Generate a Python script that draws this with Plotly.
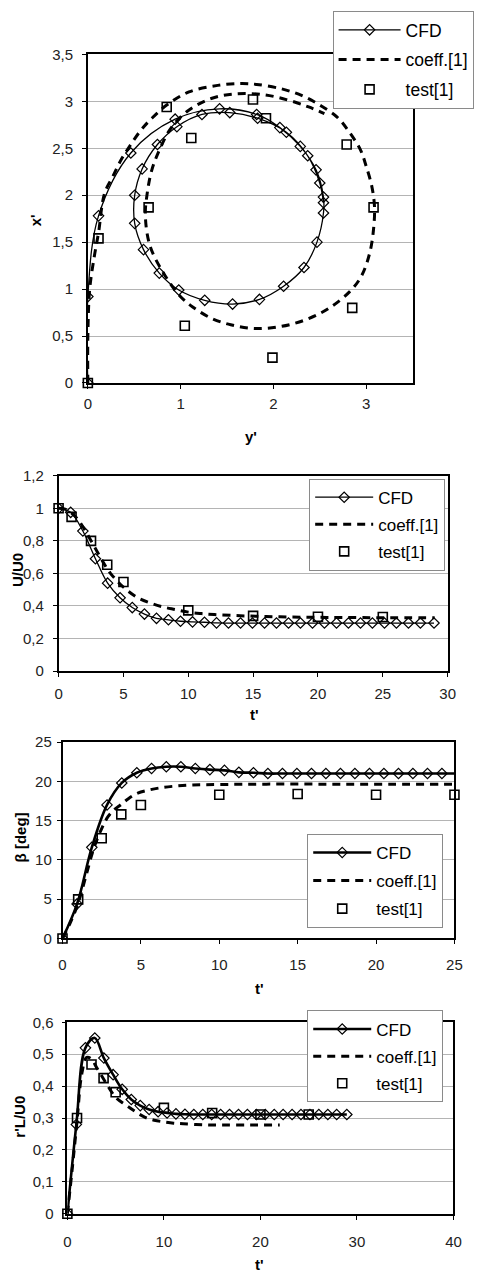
import plotly.graph_objects as go

W, H = 480, 1278

# ---------------- Plot 1: trajectory (x' vs y') ----------------
cfd1_yp = [0, 0, 0.115, 0.463, 0.941, 1.42, 1.82, 2.07, 2.29, 2.46, 2.54, 2.54, 2.47, 2.33,
           2.11, 1.85, 1.56, 1.26, 0.98, 0.77, 0.60, 0.505, 0.505, 0.585, 0.75, 0.96, 1.23,
           1.53, 1.83, 2.14, 2.37, 2.50, 2.54]
cfd1_xp = [0, 0.92, 1.78, 2.45, 2.81, 2.92, 2.86, 2.72, 2.52, 2.27, 1.98, 1.81, 1.50, 1.23,
           1.03, 0.89, 0.84, 0.88, 0.99, 1.17, 1.42, 1.70, 2.00, 2.28, 2.54, 2.73, 2.86,
           2.88, 2.82, 2.67, 2.42, 2.13, 1.92]

coeff1_yp = [0, 0, 0.02, 0.07, 0.115, 0.18, 0.27, 0.36, 0.45, 0.57, 0.69, 0.85, 1.09, 1.40,
             1.65, 1.82, 2.10, 2.31, 2.50, 2.69, 2.82, 2.94, 3.00, 3.06, 3.09, 3.08, 3.04,
             2.95, 2.82, 2.59, 2.34, 2.07, 1.79, 1.54, 1.33, 1.13, 0.99, 0.81, 0.67, 0.62,
             0.64, 0.69, 0.78, 0.90, 1.08, 1.33, 1.60, 1.90, 2.17, 2.38, 2.55]
coeff1_xp = [0, 0.5, 1.0, 1.35, 1.6, 2.02, 2.20, 2.38, 2.52, 2.69, 2.82, 2.96, 3.10, 3.17,
             3.19, 3.18, 3.13, 3.06, 2.96, 2.83, 2.67, 2.48, 2.31, 2.10, 1.88, 1.64, 1.39,
             1.14, 0.97, 0.79, 0.67, 0.60, 0.58, 0.62, 0.69, 0.81, 0.93, 1.18, 1.46, 1.78,
             2.02, 2.27, 2.50, 2.72, 2.90, 3.03, 3.08, 3.07, 3.01, 2.94, 2.87]

test1_yp = [0, 0.115, 0.85, 1.78, 2.79, 3.08, 2.85, 1.99, 1.045, 0.655, 1.115, 1.92]
test1_xp = [0, 1.54, 2.94, 3.02, 2.54, 1.87, 0.80, 0.27, 0.61, 1.87, 2.61, 2.82]

# ---------------- time histories ----------------
t_cfd = [0, 0.93, 1.87, 2.84, 3.78, 4.74, 5.68, 6.62, 7.55, 8.47, 9.4, 10.33, 11.25, 12.18,
         13.1, 14.03, 14.95, 15.88, 16.8, 17.73, 18.65, 19.58, 20.5, 21.43, 22.35, 23.28,
         24.2, 25.13, 26.05, 26.98, 27.9, 28.95]
t_test = [0, 1, 2.5, 3.75, 5, 10, 15, 20, 25]

# Plot 2: U/U0
u_cfd = [1.0, 0.975, 0.86, 0.69, 0.54, 0.45, 0.39, 0.35, 0.324, 0.315, 0.306, 0.302, 0.30,
         0.296, 0.295, 0.295, 0.295, 0.295, 0.295, 0.295, 0.295, 0.295, 0.295, 0.295, 0.295,
         0.295, 0.295, 0.295, 0.295, 0.295, 0.295, 0.295]
t_coeff2 = [0, 0.5, 1, 1.5, 2, 2.5, 3, 3.5, 4, 4.5, 5, 6, 7, 8, 9, 10, 11, 12, 14, 16, 18,
            20, 22, 25, 29]
u_coeff = [1.0, 0.995, 0.97, 0.93, 0.87, 0.80, 0.73, 0.66, 0.60, 0.555, 0.515, 0.455, 0.42,
           0.395, 0.378, 0.362, 0.353, 0.347, 0.34, 0.335, 0.332, 0.33, 0.329, 0.328, 0.327]
u_test = [1.0, 0.947, 0.80, 0.653, 0.547, 0.373, 0.339, 0.334, 0.332]

# Plot 3: beta
beta_cfd = [0, 4.4, 11.6, 17.0, 19.8, 21.1, 21.65, 21.86, 21.86, 21.65, 21.5, 21.4, 21.15,
            21.1, 21.0, 21.0, 21.0, 21.0, 21.0, 21.0, 21.0, 21.0, 21.0, 21.0, 21.0, 21.0,
            21.0, 21.0, 21.0, 21.0, 21.0, 21.0]
t_coeff3 = [0, 0.5, 1, 1.5, 2, 2.5, 2.9, 3.3, 3.7, 4.2, 4.8, 5.5, 6.3, 7.2, 8.3, 10, 13, 17,
            21, 25.4]
beta_coeff = [0, 2.0, 4.5, 8.0, 11.5, 14.0, 15.5, 16.4, 17.0, 17.8, 18.5, 18.9, 19.2, 19.4,
              19.55, 19.6, 19.65, 19.65, 19.65, 19.65]
beta_test = [0, 4.98, 12.77, 15.8, 17.0, 18.3, 18.4, 18.3, 18.3]

# Plot 4: r'L/U0
r_cfd = [0, 0.28, 0.52, 0.551, 0.488, 0.436, 0.39, 0.358, 0.339, 0.327, 0.32, 0.316, 0.313,
         0.312, 0.311, 0.311, 0.311, 0.311, 0.311, 0.311, 0.311, 0.311, 0.311, 0.311, 0.311,
         0.311, 0.311, 0.311, 0.311, 0.311, 0.311, 0.311]
t_coeff4 = [0, 0.5, 1, 1.5, 2, 2.5, 3, 4, 5, 6, 7, 8, 9, 10, 11, 12, 14, 16, 19, 22]
r_coeff = [0, 0.14, 0.29, 0.44, 0.49, 0.485, 0.46, 0.41, 0.365, 0.342, 0.321, 0.303, 0.293,
           0.288, 0.284, 0.282, 0.279, 0.278, 0.278, 0.278]
r_test = [0, 0.30, 0.468, 0.425, 0.381, 0.332, 0.316, 0.311, 0.311]

names = ["CFD", "coeff.[1]", "test[1]"]

# ---------------- layout helpers ----------------
def px_x(p):
    return p / W

def px_y(p):
    return 1 - p / H

FONT = "Liberation Sans, Arial, sans-serif"

fig = go.Figure()

panels = [
    dict(xa="x", ya="y", leg="legend", lw=1.3,
         cfd=(cfd1_yp, cfd1_xp), coeff=(coeff1_yp, coeff1_xp), test=(test1_yp, test1_xp)),
    dict(xa="x2", ya="y2", leg="legend2", lw=1.3,
         cfd=(t_cfd, u_cfd), coeff=(t_coeff2, u_coeff), test=(t_test, u_test)),
    dict(xa="x3", ya="y3", leg="legend3", lw=2.6,
         cfd=(t_cfd, beta_cfd), coeff=(t_coeff3, beta_coeff), test=(t_test, beta_test)),
    dict(xa="x4", ya="y4", leg="legend4", lw=2.6,
         cfd=(t_cfd, r_cfd), coeff=(t_coeff4, r_coeff), test=(t_test, r_test)),
]

for i, p in enumerate(panels):
    fig.add_trace(go.Scatter(
        x=p["coeff"][0], y=p["coeff"][1], mode="lines", name=names[1],
        line=dict(color="black", width=3, dash="8px,6px", shape="spline", smoothing=1),
        xaxis=p["xa"], yaxis=p["ya"], legend=p["leg"], legendgroup=f"c{i}", legendrank=2))
    fig.add_trace(go.Scatter(
        x=p["cfd"][0], y=p["cfd"][1], mode="lines+markers", name=names[0],
        line=dict(color="black", width=p["lw"], shape="spline", smoothing=1),
        marker=dict(symbol="diamond-open", size=8, color="black", line=dict(width=1.2)),
        xaxis=p["xa"], yaxis=p["ya"], legend=p["leg"], legendgroup=f"a{i}", legendrank=1))
    fig.add_trace(go.Scatter(
        x=p["test"][0], y=p["test"][1], mode="markers", name=names[2],
        marker=dict(symbol="square-open", size=9, color="black", line=dict(width=1.6)),
        xaxis=p["xa"], yaxis=p["ya"], legend=p["leg"], legendgroup=f"t{i}", legendrank=3,
        cliponaxis=False))

def axis_common():
    return dict(showline=True, linecolor="black", linewidth=1.5, mirror=True,
                ticks="outside", ticklen=4, tickcolor="black", tickwidth=1,
                tickfont=dict(family=FONT, size=15, color="#222"), zeroline=False)

# pixel boxes: left, right, top, bottom
boxes = [(86, 419, 46, 379), (56, 455, 473, 671), (60, 462, 743, 942), (65, 461, 1027, 1221)]
xr = [[0, 3.5], [0, 30], [0, 25], [0, 40]]
xd = [1, 5, 5, 10]
yr = [[0, 3.5], [0, 1.2], [0, 25], [0, 0.6]]
yd = [0.5, 0.2, 5, 0.1]
xstand = [2, 4, 8, 9]
ystand = [6, 6, 2, 5]

layout = dict(width=W, height=H, margin=dict(l=0, r=0, t=0, b=0), autosize=False,
              paper_bgcolor="white", plot_bgcolor="white", separators=", ",
              font=dict(family=FONT, color="black"))
for k, (l, r, t, b) in enumerate(boxes):
    sx = "xaxis" if k == 0 else f"xaxis{k+1}"
    sy = "yaxis" if k == 0 else f"yaxis{k+1}"
    ax = axis_common()
    ax.update(domain=[px_x(l), px_x(r)], range=xr[k], dtick=xd[k], tick0=0, showgrid=False,
              anchor="y" if k == 0 else f"y{k+1}", ticklabelstandoff=xstand[k])
    ay = axis_common()
    ay.update(domain=[px_y(b), px_y(t)], range=yr[k], dtick=yd[k], tick0=0, showgrid=True,
              gridcolor="#b4b4b4", gridwidth=1.2,
              anchor="x" if k == 0 else f"x{k+1}", ticklabelstandoff=ystand[k])
    layout[sx] = ax
    layout[sy] = ay

legpos = [(337, 2), (313, 476), (311, 836), (311, 1015)]
leggap = [4, 2, 3, 2]
legfs = [17.5, 17, 17, 17]
legiw = [62, 58, 58, 58]
for k, (lx, ly) in enumerate(legpos):
    key = "legend" if k == 0 else f"legend{k+1}"
    layout[key] = dict(x=px_x(lx), y=px_y(ly), xanchor="left", yanchor="top",
                       bgcolor="white", bordercolor="#8a8a8a", borderwidth=1,
                       font=dict(family=FONT, size=legfs[k], color="black"),
                       itemwidth=legiw[k], tracegroupgap=leggap[k], traceorder="grouped")

fig.update_layout(**layout)

# axis titles
titles = [
    ("x'", 32, 214, -90), ("y'", 253, 433, 0),
    ("U/U0", 14, 569, -90), ("t'", 257, 715, 0),
    ("β [deg]", 17, 840, -90), ("t'", 262, 993, 0),
    ("r'L/U0", 15, 1123, -90), ("t'", 262, 1272, 0),
]
for txt, x, y, ang in titles:
    fig.add_annotation(text=f"<b>{txt}</b>", x=px_x(x), y=px_y(y), xref="paper", yref="paper",
                       xanchor="center", yanchor="middle", showarrow=False, textangle=ang,
                       font=dict(family=FONT, size=15, color="black"))

fig.write_html("out.html")
